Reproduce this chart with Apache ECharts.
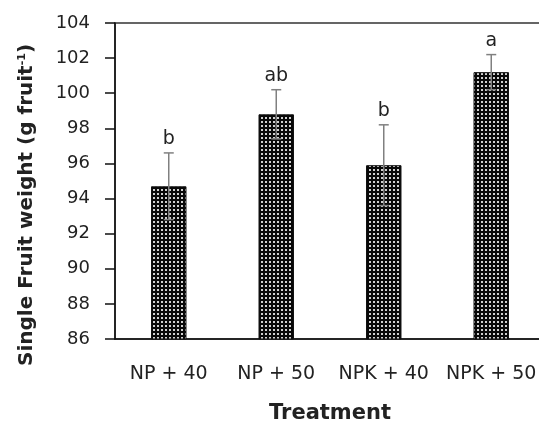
<!DOCTYPE html>
<html>
<head>
<meta charset="utf-8">
<script src="https://cdn.jsdelivr.net/npm/echarts@6/dist/echarts.min.js"></script>
<style>
  html, body { margin: 0; padding: 0; background: #fff; }
  #chart { width: 539px; height: 423px; }
</style>
</head>
<body>
<div id="chart"></div>
<script>
// 数据
let categories = ['NP + 40', 'NP + 50', 'NPK + 40', 'NPK + 50'];
let means = [94.7, 98.8, 95.9, 101.2];
let errors = [1.9, 1.4, 2.3, 1.0];
let letters = ['b', 'ab', 'b', 'a'];
let yTicks = [86, 88, 90, 92, 94, 96, 98, 100, 102, 104];

// 点状填充
let makePattern = () => {
    let c = document.createElement('canvas');
    c.width = 4; c.height = 4;
    let ctx = c.getContext('2d');
    ctx.fillStyle = '#080808';
    ctx.fillRect(0, 0, 4, 4);
    ctx.fillStyle = '#d0d0d0';
    ctx.fillRect(1, 1, 2, 2);
    return c;
};

let font = '"DejaVu Sans", Verdana, sans-serif';
let chart = echarts.init(document.getElementById('chart'), null, { renderer: 'canvas' });

chart.setOption({
    animation: false,
    backgroundColor: '#fff',
    grid: {
        left: 115, right: -6, top: 23, bottom: 84,
        outerBoundsMode: 'none',
        show: true, borderColor: '#333', borderWidth: 1.5
    },
    xAxis: {
        type: 'category',
        data: categories,
        name: 'Treatment',
        nameLocation: 'middle',
        nameGap: 64,
        nameTextStyle: { fontFamily: font, fontWeight: 'bold', fontSize: 21, color: '#222' },
        axisLine: { lineStyle: { color: '#111', width: 1.5 } },
        axisTick: { alignWithLabel: true, length: 5, lineStyle: { color: '#111', width: 1.5 } },
        axisLabel: { interval: 0, fontFamily: font, fontSize: 19, color: '#222', margin: 26 }
    },
    yAxis: {
        type: 'value',
        min: yTicks[0],
        max: yTicks[yTicks.length - 1],
        interval: 2,
        name: '{t|Single Fruit weight (g fruit}{s|-1}{t|)}',
        nameLocation: 'middle',
        nameGap: 78,
        nameTextStyle: {
            padding: [0, 48, 0, 0],
            rich: {
                t: { fontFamily: font, fontWeight: 'bold', fontSize: 20, color: '#222' },
                s: { fontFamily: font, fontWeight: 'bold', fontSize: 11, color: '#222', verticalAlign: 'top', padding: [0, 0, 9, 0] }
            }
        },
        splitLine: { show: false },
        axisLine: { show: true, lineStyle: { color: '#111', width: 1.5 } },
        axisTick: { show: true, length: 10, lineStyle: { color: '#111', width: 1.5 } },
        axisLabel: { fontFamily: font, fontSize: 18, color: '#222', margin: 25 }
    },
    series: [
        {
            type: 'bar',
            data: means,
            barWidth: '33%',
            itemStyle: {
                color: { image: makePattern(), repeat: 'repeat' },
                borderColor: '#111',
                borderWidth: 1
            }
        },
        {
            type: 'custom',
            data: means.map((m, i) => [i, m - errors[i], m + errors[i]]),
            z: 5,
            renderItem: (params, api) => {
                let lo = api.coord([api.value(0), api.value(1)]);
                let hi = api.coord([api.value(0), api.value(2)]);
                let x = hi[0];
                let style = { stroke: '#808080', lineWidth: 1.5 };
                return {
                    type: 'group',
                    children: [
                        { type: 'line', shape: { x1: x, y1: lo[1], x2: x, y2: hi[1] }, style },
                        { type: 'line', shape: { x1: x - 5, y1: hi[1], x2: x + 5, y2: hi[1] }, style },
                        { type: 'line', shape: { x1: x - 5, y1: lo[1], x2: x + 5, y2: lo[1] }, style },
                        {
                            type: 'text',
                            style: {
                                x: x, y: hi[1] - 4,
                                text: letters[params.dataIndex],
                                textAlign: 'center', textVerticalAlign: 'bottom',
                                font: '19px ' + font, fill: '#222'
                            }
                        }
                    ]
                };
            }
        }
    ]
});
</script>
</body>
</html>
